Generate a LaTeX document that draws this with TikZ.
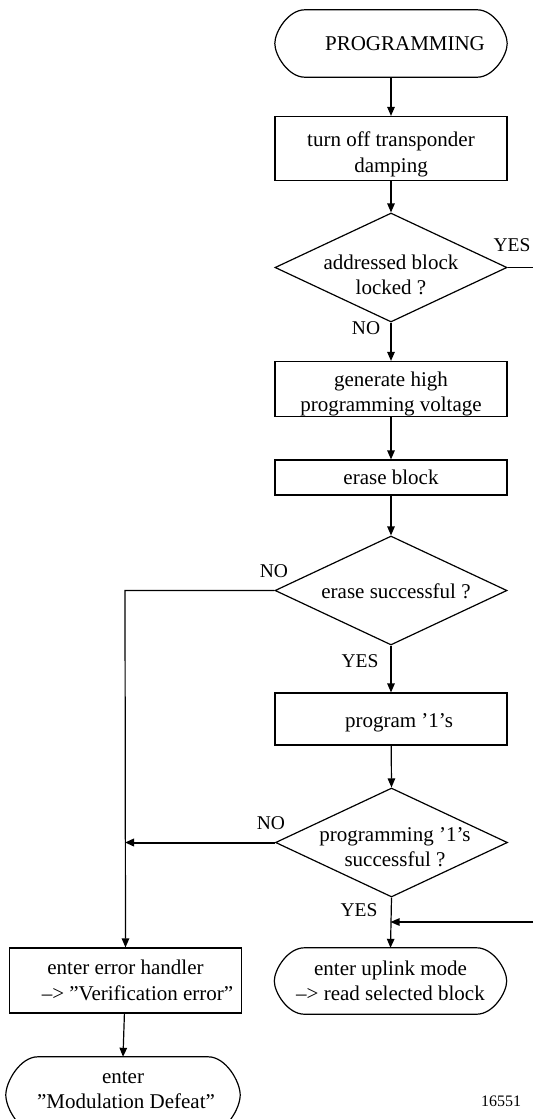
\documentclass[tikz,border=0pt]{standalone}
\usepackage{fontspec}
\setmainfont{Liberation Serif}
\usetikzlibrary{shapes.geometric,arrows.meta,calc}
\newcommand\termoutline[2]{%
  \draw[line width=1.2pt] ([xshift=#2]#1.north west) -- ([xshift=-#2]#1.north east)
    .. controls ([xshift=-0.45*#2]#1.north east) and ($(#1.east)!0.35!(#1.north east)$) .. (#1.east)
    .. controls ($(#1.east)!0.35!(#1.south east)$) and ([xshift=-0.45*#2]#1.south east) .. ([xshift=-#2]#1.south east)
    -- ([xshift=#2]#1.south west)
    .. controls ([xshift=0.45*#2]#1.south west) and ($(#1.west)!0.35!(#1.south west)$) .. (#1.west)
    .. controls ($(#1.west)!0.35!(#1.north west)$) and ([xshift=0.45*#2]#1.north west) .. ([xshift=#2]#1.north west) -- cycle;}
\begin{document}
\begin{tikzpicture}[x=1pt,y=-1pt,
  every node/.style={font=\fontsize{21}{25.5}\selectfont},
  box/.style={draw, line width=1.2pt, minimum width=232pt, inner sep=0pt, align=center},
  term/.style={minimum width=232pt, inner sep=0pt, align=center},
  dia/.style={draw, diamond, line width=1.2pt, minimum width=232pt, minimum height=109pt, inner sep=0pt},
  dtext/.style={inner sep=0pt, align=center},
  lbl/.style={inner sep=0pt, font=\fontsize{19.5}{23}\selectfont},
  arr/.style={-{Triangle[length=9pt,width=7.5pt]}, line width=1.2pt},
  ln/.style={line width=1.2pt}]
\useasboundingbox (0,0) rectangle (533,1119);

% terminators and boxes
\node[term, minimum height=67pt] (t0) at (391,43.5) {\hspace*{28pt}PROGRAMMING};
\termoutline{t0}{30pt}

\node[box, minimum height=64pt] (b1) at (391,148.5) {\rule{0pt}{27pt}turn off transponder\\damping};

\node[dia] (d1) at (391,267.5) {};
\node[dtext] (d1t) at (391,275) {addressed block\\locked ?};

\node[box, minimum height=54pt] (b2) at (391,389) {\rule{0pt}{25pt}generate high\\programming voltage};
\node[box, minimum height=35pt] (b3) at (391,477.5) {erase block};

\node[dia] (d2) at (391,590.5) {};
\node[dtext] (d2t) at (396,591) {erase successful ?};

\node[box, minimum height=52pt] (b4) at (391,719) {\rule{0pt}{22pt}\hspace*{16pt}program ’1’s};

\node[dia] (d3) at (391.5,842.5) {};
\node[dtext] (d3t) at (395,847) {programming ’1’s\\successful ?};

\node[term, minimum height=66pt] (t1) at (390.5,981) {enter uplink mode\\–> read selected block};
\termoutline{t1}{30pt}

\node[box, minimum height=65pt] (b5) at (125.5,980.5) {enter error handler\\\hspace*{24pt}–> ”Verification error”};

\node[term, minimum height=76pt, minimum width=234pt] (t2) at (123,1095) {};
\termoutline{t2}{32pt}
\node[dtext] (t2t) at (123,1090) {enter\\\hspace*{6pt}”Modulation Defeat”};

\node[lbl] (n16551) at (501,1101) {\fontsize{16}{19}\selectfont 16551};

% labels
\node[lbl] (y1) at (512,245) {YES};
\node[lbl] (n1) at (366,328) {NO};
\node[lbl] (n2) at (274,571) {NO};
\node[lbl] (y2) at (360,661) {YES};
\node[lbl] (n3) at (271,823) {NO};
\node[lbl] (y3) at (359,910) {YES};

% helper coordinates
\coordinate (e1) at (533,267.5);
\coordinate (c1) at (125,590.5);
\coordinate (c2) at (125,842.5);
\coordinate (e2) at (533,922);
\coordinate (c3) at (390.5,922);

% connectors
\draw[arr] (t0) -- (b1);
\draw[arr] (b1) -- (d1.north);
\draw[ln] (d1.east) -- (e1);
\draw[arr] (d1.south) -- (b2);
\draw[arr] (b2) -- (b3);
\draw[arr] (b3) -- (d2.north);
\draw[arr] (d2.west) -- (c1) -- (b5.north);
\draw[arr] (d2.south) -- (b4);
\draw[arr] (b4) -- (d3.north);
\draw[-{Triangle[length=9pt,width=7.5pt]}, line width=2pt] (d3.west) -- (c2);
\draw[arr] (d3.south) -- (t1.north);
\draw[arr] (e2) -- (c3);
\draw[arr] (b5) -- (t2.north);
\end{tikzpicture}
\end{document}
